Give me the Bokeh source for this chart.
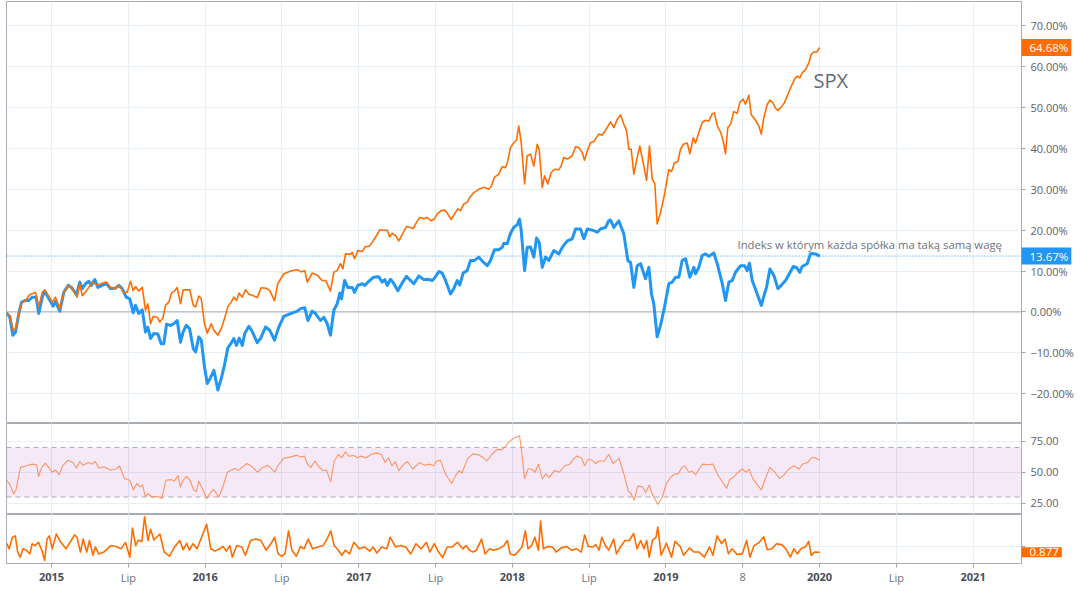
from bokeh.plotting import figure
from bokeh.models import Range1d, FixedTicker, Span, Label, BoxAnnotation, CustomJSTickFormatter
from bokeh.layouts import column
from bokeh.embed import file_html
from bokeh.resources import INLINE

# ---------------- data (decimal year, value) ----------------
equal_weight_pct = [
(2014.707,-0.2),(2014.729,-1.3),(2014.748,-5.7),(2014.766,-4.9),(2014.787,-0.4),(2014.805,2.4),(2014.831,2.8),(2014.852,2.8),(2014.874,3.6),(2014.900,3.6),
(2014.917,-0.4),(2014.940,3.6),(2014.956,5.1),(2014.983,3.2),(2015.011,1.4),(2015.026,2.6),(2015.054,0.2),(2015.080,4.8),(2015.109,6.5),(2015.130,6.0),
(2015.163,4.2),(2015.184,7.3),(2015.200,5.7),(2015.221,6.9),(2015.243,7.5),(2015.259,6.5),(2015.282,7.9),(2015.302,6.0),(2015.330,6.5),(2015.358,6.9),
(2015.384,5.7),(2015.417,5.8),(2015.438,6.5),(2015.460,5.7),(2015.486,3.6),(2015.510,3.2),(2015.532,-0.2),(2015.547,1.6),(2015.568,-0.4),(2015.591,0.5),
(2015.612,-4.9),(2015.627,-3.7),(2015.645,-6.5),(2015.666,-5.3),(2015.692,-5.4),(2015.714,-7.8),(2015.731,-7.8),(2015.749,-3.0),(2015.775,-3.3),(2015.796,-2.9),
(2015.818,-2.1),(2015.840,-7.4),(2015.857,-4.9),(2015.877,-3.3),(2015.899,-4.1),(2015.923,-9.0),(2015.938,-9.8),(2015.959,-6.1),(2015.975,-6.9),(2015.996,-13.5),
(2016.014,-17.5),(2016.035,-16.1),(2016.057,-14.3),(2016.083,-19.1),(2016.105,-16.3),(2016.126,-13.0),(2016.148,-8.8),(2016.170,-7.6),(2016.187,-6.5),(2016.204,-8.2),
(2016.222,-6.4),(2016.242,-8.2),(2016.258,-5.3),(2016.285,-3.5),(2016.307,-4.8),(2016.339,-7.5),(2016.361,-6.5),(2016.393,-3.7),(2016.421,-4.5),(2016.452,-6.9),
(2016.480,-3.7),(2016.512,-1.1),(2016.556,-0.4),(2016.600,0.2),(2016.621,0.8),(2016.649,1.0),(2016.669,-2.1),(2016.697,0.2),(2016.719,-0.4),(2016.751,-2.1),
(2016.773,-1.3),(2016.795,-2.9),(2016.816,-5.7),(2016.838,0.4),(2016.860,2.0),(2016.877,4.6),(2016.888,3.2),(2016.908,7.7),(2016.929,6.0),(2016.958,6.0),
(2016.973,4.8),(2016.994,6.5),(2017.023,6.9),(2017.040,6.5),(2017.066,7.5),(2017.098,8.5),(2017.131,8.6),(2017.153,7.3),(2017.170,7.9),(2017.186,6.5),
(2017.207,8.0),(2017.229,6.9),(2017.255,5.2),(2017.283,7.1),(2017.311,8.7),(2017.337,7.7),(2017.359,6.9),(2017.391,8.8),(2017.424,7.9),(2017.450,8.0),
(2017.479,7.7),(2017.494,8.3),(2017.522,9.9),(2017.544,9.5),(2017.565,7.7),(2017.598,4.4),(2017.619,5.7),(2017.641,7.7),(2017.658,6.6),(2017.680,9.5),
(2017.706,10.1),(2017.728,12.6),(2017.754,12.6),(2017.782,13.4),(2017.808,12.3),(2017.837,11.3),(2017.858,12.6),(2017.884,15.2),(2017.912,15.2),(2017.934,15.8),
(2017.945,16.8),(2017.967,16.7),(2017.988,19.2),(2018.010,20.7),(2018.032,21.3),(2018.047,22.7),(2018.058,19.9),(2018.080,10.1),(2018.097,15.8),(2018.119,15.9),
(2018.140,13.4),(2018.158,18.1),(2018.175,17.0),(2018.195,10.9),(2018.216,13.4),(2018.238,12.6),(2018.270,15.0),(2018.303,14.2),(2018.325,15.8),(2018.358,17.4),
(2018.390,17.9),(2018.412,20.3),(2018.444,20.3),(2018.466,17.9),(2018.488,20.3),(2018.531,19.9),(2018.553,19.5),(2018.574,20.3),(2018.607,20.7),(2018.628,22.3),
(2018.639,22.5),(2018.661,20.7),(2018.693,22.3),(2018.726,19.1),(2018.752,12.6),(2018.770,12.1),(2018.791,6.0),(2018.813,11.3),(2018.835,11.8),(2018.867,8.1),
(2018.889,10.9),(2018.906,4.4),(2018.921,2.0),(2018.943,-6.1),(2018.965,-3.3),(2018.991,1.2),(2019.019,6.9),(2019.041,7.3),(2019.063,8.5),(2019.084,8.5),
(2019.106,12.6),(2019.128,13.0),(2019.156,8.5),(2019.182,10.9),(2019.193,9.3),(2019.214,10.9),(2019.236,13.8),(2019.258,14.2),(2019.279,13.6),(2019.312,14.4),
(2019.334,11.8),(2019.367,6.9),(2019.388,2.8),(2019.410,7.3),(2019.432,7.7),(2019.453,9.7),(2019.486,11.3),(2019.512,11.3),(2019.529,10.1),(2019.544,11.9),
(2019.562,7.7),(2019.590,4.8),(2019.621,1.6),(2019.642,4.4),(2019.655,6.0),(2019.677,10.5),(2019.703,8.9),(2019.729,5.7),(2019.751,6.5),(2019.779,7.7),
(2019.800,9.1),(2019.829,11.1),(2019.850,10.9),(2019.872,9.7),(2019.887,11.1),(2019.920,11.8),(2019.941,14.2),(2019.953,14.3),(2019.974,14.2),(2020.002,13.67)]

spx_pct = [
(2014.707,-0.2),(2014.729,-0.9),(2014.751,-4.5),(2014.766,-4.1),(2014.787,-0.4),(2014.805,2.1),(2014.831,2.8),(2014.857,4.2),(2014.878,4.5),(2014.896,4.8),
(2014.917,1.2),(2014.940,4.8),(2014.956,5.4),(2014.983,3.8),(2015.005,2.4),(2015.026,3.6),(2015.054,0.8),(2015.080,4.8),(2015.109,6.5),(2015.130,6.0),
(2015.167,3.6),(2015.184,6.9),(2015.200,4.0),(2015.221,4.8),(2015.243,6.0),(2015.265,7.3),(2015.298,6.5),(2015.330,7.0),(2015.358,7.3),(2015.384,6.0),
(2015.417,5.8),(2015.438,6.5),(2015.471,4.8),(2015.493,4.8),(2015.514,7.5),(2015.532,5.2),(2015.547,6.2),(2015.568,5.1),(2015.591,6.0),(2015.612,0.4),
(2015.627,2.0),(2015.645,-2.9),(2015.662,-1.1),(2015.688,-1.3),(2015.705,-2.5),(2015.725,-1.5),(2015.742,1.6),(2015.764,2.4),(2015.781,4.6),(2015.803,5.2),
(2015.818,6.0),(2015.840,2.0),(2015.857,5.4),(2015.884,5.4),(2015.900,5.4),(2015.923,1.6),(2015.938,1.2),(2015.959,3.9),(2015.975,3.2),(2015.996,-2.9),
(2016.014,-5.2),(2016.040,-2.9),(2016.057,-4.5),(2016.083,-5.7),(2016.105,-4.1),(2016.126,-1.7),(2016.148,1.3),(2016.170,2.4),(2016.187,3.6),(2016.204,2.8),
(2016.222,4.6),(2016.242,3.6),(2016.263,5.4),(2016.285,4.3),(2016.311,4.0),(2016.339,3.5),(2016.365,5.9),(2016.398,5.8),(2016.421,5.2),(2016.452,2.7),
(2016.473,6.9),(2016.512,9.3),(2016.556,10.0),(2016.600,10.3),(2016.626,9.8),(2016.649,10.1),(2016.665,7.3),(2016.697,9.5),(2016.730,9.0),(2016.762,7.7),
(2016.784,7.7),(2016.795,6.9),(2016.816,5.1),(2016.838,9.7),(2016.860,10.1),(2016.882,11.8),(2016.897,10.5),(2016.914,14.2),(2016.947,14.1),(2016.958,14.6),
(2016.973,13.0),(2016.994,15.0),(2017.023,14.8),(2017.044,16.0),(2017.066,16.0),(2017.088,17.0),(2017.116,18.7),(2017.137,20.1),(2017.163,20.0),(2017.186,20.0),
(2017.201,18.4),(2017.218,19.2),(2017.240,18.7),(2017.261,17.4),(2017.283,18.9),(2017.311,20.9),(2017.333,20.7),(2017.355,20.4),(2017.376,21.9),(2017.398,23.1),
(2017.424,22.8),(2017.446,23.1),(2017.472,22.3),(2017.494,22.8),(2017.511,24.0),(2017.537,24.8),(2017.561,24.9),(2017.576,24.2),(2017.602,22.6),(2017.624,24.0),
(2017.645,25.2),(2017.663,24.8),(2017.684,26.4),(2017.706,26.8),(2017.723,28.0),(2017.749,29.2),(2017.782,30.0),(2017.815,30.5),(2017.847,30.0),(2017.865,30.9),
(2017.884,33.0),(2017.912,33.7),(2017.934,35.5),(2017.956,35.3),(2017.971,37.0),(2017.988,40.2),(2018.010,41.4),(2018.027,42.0),(2018.042,45.5),(2018.058,41.4),
(2018.080,31.3),(2018.097,38.2),(2018.119,38.6),(2018.140,35.7),(2018.162,41.0),(2018.175,39.8),(2018.195,30.4),(2018.210,33.3),(2018.231,31.3),(2018.253,34.1),
(2018.275,34.9),(2018.303,34.8),(2018.318,35.7),(2018.335,37.8),(2018.358,37.4),(2018.390,38.2),(2018.412,40.4),(2018.433,40.2),(2018.455,39.0),(2018.470,37.1),
(2018.488,39.4),(2018.509,41.4),(2018.531,41.7),(2018.563,43.5),(2018.585,43.3),(2018.607,44.4),(2018.639,46.5),(2018.661,45.1),(2018.683,47.1),(2018.705,48.2),
(2018.726,45.9),(2018.744,44.3),(2018.759,39.8),(2018.774,39.8),(2018.791,33.7),(2018.813,37.8),(2018.830,40.6),(2018.852,36.5),(2018.874,32.2),(2018.893,40.6),
(2018.911,32.5),(2018.928,31.3),(2018.943,21.5),(2018.965,24.3),(2018.991,28.8),(2019.019,34.8),(2019.037,34.4),(2019.056,36.5),(2019.078,36.8),(2019.095,39.8),
(2019.113,41.0),(2019.139,41.3),(2019.156,38.7),(2019.178,42.6),(2019.193,41.3),(2019.214,43.9),(2019.236,46.3),(2019.258,46.9),(2019.279,46.7),(2019.302,48.5),
(2019.316,48.7),(2019.334,45.5),(2019.356,44.0),(2019.373,41.8),(2019.388,38.7),(2019.403,45.1),(2019.421,45.9),(2019.442,49.0),(2019.464,48.6),(2019.481,51.2),
(2019.503,52.1),(2019.518,50.8),(2019.540,53.0),(2019.555,48.3),(2019.583,46.9),(2019.605,45.5),(2019.621,43.5),(2019.637,47.5),(2019.660,50.8),(2019.677,51.8),
(2019.696,51.2),(2019.714,49.8),(2019.729,49.3),(2019.751,50.1),(2019.772,51.2),(2019.794,53.2),(2019.816,55.2),(2019.837,56.9),(2019.855,57.7),(2019.872,57.3),
(2019.887,58.5),(2019.909,59.3),(2019.930,60.9),(2019.946,63.0),(2019.963,63.6),(2019.981,63.6),(2020.002,64.68)]

rsi_values = [
(2014.708,43.5),(2014.731,39.6),(2014.753,32.6),(2014.769,35.7),(2014.798,53.9),(2014.836,55.2),(2014.870,56.5),(2014.904,56.0),(2014.915,46.6),(2014.937,53.9),
(2014.960,57.3),(2015.005,50.0),(2015.027,51.8),(2015.050,47.9),(2015.072,55.2),(2015.106,59.6),(2015.139,57.8),(2015.162,53.4),(2015.184,58.6),(2015.206,55.7),
(2015.240,57.8),(2015.262,56.5),(2015.285,58.6),(2015.307,53.4),(2015.341,54.4),(2015.382,51.8),(2015.420,52.6),(2015.442,55.2),(2015.476,44.8),(2015.510,43.5),
(2015.532,35.7),(2015.555,40.9),(2015.577,38.3),(2015.592,39.6),(2015.611,30.5),(2015.628,32.6),(2015.656,30.0),(2015.689,30.5),(2015.718,28.7),(2015.745,43.5),
(2015.779,44.0),(2015.801,43.0),(2015.824,47.4),(2015.839,38.3),(2015.857,43.5),(2015.880,46.6),(2015.902,43.5),(2015.925,35.7),(2015.943,34.4),(2015.958,42.7),
(2015.981,37.0),(2016.010,28.7),(2016.033,33.1),(2016.055,36.2),(2016.089,30.0),(2016.116,38.3),(2016.145,50.0),(2016.172,51.8),(2016.195,53.1),(2016.217,51.3),
(2016.239,53.9),(2016.273,57.0),(2016.307,54.4),(2016.341,50.0),(2016.374,53.9),(2016.408,55.7),(2016.453,50.0),(2016.475,55.2),(2016.509,61.2),(2016.554,62.2),
(2016.598,63.8),(2016.621,62.2),(2016.648,63.0),(2016.665,56.5),(2016.688,53.9),(2016.715,59.1),(2016.744,53.9),(2016.767,51.3),(2016.789,51.8),(2016.818,42.2),
(2016.840,58.6),(2016.867,64.3),(2016.890,61.7),(2016.913,66.4),(2016.935,63.0),(2016.969,63.5),(2016.992,61.7),(2017.014,63.0),(2017.048,61.7),(2017.081,64.3),
(2017.115,65.6),(2017.149,64.3),(2017.171,57.8),(2017.194,61.7),(2017.216,55.2),(2017.239,58.6),(2017.261,51.3),(2017.295,56.5),(2017.318,58.6),(2017.351,52.6),
(2017.396,57.8),(2017.430,55.7),(2017.464,56.5),(2017.486,55.2),(2017.509,59.1),(2017.531,59.6),(2017.565,48.7),(2017.604,40.9),(2017.631,47.4),(2017.654,51.3),
(2017.671,49.2),(2017.710,61.2),(2017.744,64.8),(2017.777,64.3),(2017.811,61.7),(2017.833,59.1),(2017.867,64.3),(2017.900,68.2),(2017.934,68.2),(2017.957,70.8),
(2017.979,74.7),(2018.013,77.8),(2018.047,79.4),(2018.058,69.5),(2018.080,44.8),(2018.103,52.6),(2018.125,52.6),(2018.148,50.0),(2018.170,56.5),(2018.195,44.8),
(2018.218,48.7),(2018.240,45.6),(2018.274,51.3),(2018.307,50.0),(2018.341,55.2),(2018.374,56.5),(2018.397,60.4),(2018.419,63.0),(2018.449,61.7),(2018.471,55.2),
(2018.494,60.4),(2018.520,59.6),(2018.543,57.0),(2018.565,59.1),(2018.599,59.1),(2018.628,64.3),(2018.655,57.0),(2018.695,61.2),(2018.723,50.0),(2018.756,34.4),
(2018.772,33.1),(2018.794,27.4),(2018.816,38.8),(2018.846,38.3),(2018.869,33.6),(2018.891,39.6),(2018.913,31.8),(2018.947,24.0),(2018.974,29.2),(2019.003,40.9),
(2019.032,46.1),(2019.059,48.7),(2019.081,48.7),(2019.104,53.9),(2019.122,55.2),(2019.149,50.0),(2019.171,50.8),(2019.194,47.9),(2019.216,52.6),(2019.239,56.5),
(2019.272,56.0),(2019.306,56.5),(2019.340,47.4),(2019.396,37.0),(2019.414,44.0),(2019.441,46.1),(2019.463,49.2),(2019.497,52.6),(2019.524,50.0),(2019.542,52.6),
(2019.565,44.8),(2019.621,35.7),(2019.643,43.5),(2019.677,53.9),(2019.710,50.0),(2019.740,44.8),(2019.766,47.4),(2019.800,52.6),(2019.833,55.2),(2019.867,52.6),
(2019.889,56.5),(2019.923,57.8),(2019.946,61.7),(2019.968,61.7),(2020.002,59.9)]

osc_values = [
(2014.708,1.07),(2014.724,0.95),(2014.746,1.20),(2014.764,1.23),(2014.780,0.88),(2014.796,0.77),(2014.814,0.95),(2014.836,0.92),(2014.859,0.84),(2014.874,1.06),
(2014.892,1.02),(2014.915,1.09),(2014.937,0.92),(2014.955,0.70),(2014.971,1.16),(2014.986,1.23),(2015.005,0.95),(2015.031,1.27),(2015.061,1.09),(2015.094,0.95),
(2015.128,1.13),(2015.150,1.25),(2015.166,1.20),(2015.188,0.88),(2015.206,1.16),(2015.229,0.88),(2015.247,1.13),(2015.270,0.81),(2015.285,0.99),(2015.307,0.84),
(2015.341,0.88),(2015.386,1.02),(2015.420,1.00),(2015.453,0.95),(2015.481,1.09),(2015.510,0.77),(2015.527,1.40),(2015.548,1.02),(2015.566,1.14),(2015.588,1.11),
(2015.606,1.64),(2015.628,1.13),(2015.645,1.37),(2015.667,1.14),(2015.705,1.27),(2015.734,0.88),(2015.768,0.79),(2015.801,0.99),(2015.835,1.13),(2015.857,0.93),
(2015.880,1.07),(2015.898,0.92),(2015.921,1.06),(2015.947,0.95),(2015.981,1.23),(2016.010,1.48),(2016.037,0.95),(2016.064,0.90),(2016.093,0.95),(2016.116,1.00),
(2016.138,0.90),(2016.161,1.02),(2016.177,0.77),(2016.206,1.02),(2016.239,0.99),(2016.262,0.81),(2016.296,1.13),(2016.330,1.16),(2016.363,1.13),(2016.397,0.92),
(2016.430,1.07),(2016.453,1.20),(2016.475,0.84),(2016.498,0.79),(2016.520,0.84),(2016.543,1.34),(2016.565,0.92),(2016.594,0.79),(2016.621,1.00),(2016.644,0.95),
(2016.671,1.16),(2016.700,0.95),(2016.734,0.99),(2016.767,1.02),(2016.789,1.13),(2016.818,1.34),(2016.840,1.02),(2016.867,0.92),(2016.890,0.81),(2016.913,0.92),
(2016.940,0.84),(2016.969,1.09),(2017.003,0.95),(2017.036,0.99),(2017.071,0.90),(2017.093,0.99),(2017.119,0.86),(2017.149,0.99),(2017.183,0.95),(2017.205,1.20),
(2017.239,0.99),(2017.272,1.02),(2017.306,0.99),(2017.339,0.84),(2017.373,1.06),(2017.407,0.95),(2017.441,1.09),(2017.463,0.88),(2017.492,1.06),(2017.520,0.88),
(2017.546,0.76),(2017.576,0.99),(2017.609,0.99),(2017.643,1.09),(2017.677,0.95),(2017.699,1.02),(2017.721,0.92),(2017.744,0.88),(2017.766,0.92),(2017.800,1.16),
(2017.822,0.84),(2017.852,0.95),(2017.878,0.92),(2017.912,0.95),(2017.945,1.02),(2017.968,1.13),(2017.986,0.84),(2018.013,0.81),(2018.035,0.88),(2018.063,0.99),
(2018.085,1.34),(2018.102,0.95),(2018.125,1.02),(2018.147,1.20),(2018.170,0.92),(2018.184,1.55),(2018.202,0.95),(2018.229,1.00),(2018.262,0.99),(2018.285,0.88),
(2018.318,0.97),(2018.352,1.00),(2018.385,0.92),(2018.419,0.95),(2018.449,0.88),(2018.471,1.25),(2018.494,1.00),(2018.525,0.99),(2018.543,1.04),(2018.565,0.92),
(2018.583,1.20),(2018.606,1.02),(2018.628,0.92),(2018.660,1.16),(2018.678,0.84),(2018.705,1.00),(2018.734,1.13),(2018.762,1.13),(2018.790,1.28),(2018.812,0.95),
(2018.835,1.13),(2018.857,0.95),(2018.875,1.13),(2018.891,0.77),(2018.913,1.14),(2018.936,1.20),(2018.947,1.42),(2018.969,0.81),(2019.003,1.07),(2019.037,0.77),
(2019.059,1.11),(2019.093,1.00),(2019.115,0.81),(2019.154,0.97),(2019.182,0.88),(2019.216,0.88),(2019.250,0.77),(2019.284,0.99),(2019.306,0.81),(2019.333,1.23),
(2019.362,1.06),(2019.385,1.16),(2019.407,0.84),(2019.430,0.95),(2019.463,0.83),(2019.497,0.84),(2019.525,1.13),(2019.547,0.77),(2019.574,1.02),(2019.608,1.09),
(2019.637,1.21),(2019.660,0.93),(2019.691,0.95),(2019.720,1.06),(2019.754,1.04),(2019.781,0.95),(2019.810,0.77),(2019.833,0.95),(2019.856,0.84),(2019.878,0.95),
(2019.908,0.99),(2019.930,1.11),(2019.946,0.81),(2019.968,0.88),(2020.002,0.877)]

time_ticks = [2015.0, 2015.5, 2016.0, 2016.5, 2017.0, 2017.5, 2018.0, 2018.5, 2019.0, 2019.5, 2020.0, 2020.5, 2021.0]
time_labels = ["2015", "Lip", "2016", "Lip", "2017", "Lip", "2018", "Lip", "2019", "8", "2020", "Lip", "2021"]
pct_ticks = [-20, -10, 0, 10, 20, 30, 40, 50, 60, 70]
rsi_ticks = [25, 50, 75]
rsi_band = (30, 70)

# ---------------- style ----------------
ORANGE = "#FF6D00"
BLUE = "#2196F3"
FRAME = "#A9ACB4"
GRID = "#E8EEF5"
TXT = "#5D606B"
FONT = "Open Sans"

def unzip(pairs):
    return [a for a, _ in pairs], [b for _, b in pairs]

eq_t, eq_v = unzip(equal_weight_pct)
spx_t, spx_v = unzip(spx_pct)
rsi_t, rsi_v = unzip(rsi_values)
osc_t, osc_v = unzip(osc_values)

x_range = Range1d(2014.707, 2021.315)
X_END = 2021.315


def make_fig(frame_h, y_rng, top=0, bottom=0, xaxis=False):
    p = figure(frame_width=1015, frame_height=frame_h, x_range=x_range, y_range=y_rng,
               output_backend="svg", toolbar_location=None,
               x_axis_location="below" if xaxis else None, y_axis_location="right",
               min_border_left=6, min_border_right=59, min_border_top=top, min_border_bottom=bottom)
    p.outline_line_color = FRAME
    p.outline_line_width = 1
    p.background_fill_color = "white"
    p.border_fill_color = "white"
    p.xgrid.ticker = FixedTicker(ticks=time_ticks)
    p.xgrid.grid_line_color = GRID
    p.ygrid.grid_line_color = GRID
    ax = p.yaxis[0]
    ax.axis_line_color = FRAME
    ax.major_tick_line_color = "#A0A3AB"
    ax.major_tick_out = 4
    ax.major_tick_in = 0
    ax.minor_tick_line_color = None
    ax.major_label_text_font = FONT
    ax.major_label_text_font_size = "11px"
    ax.major_label_text_color = TXT
    ax.major_label_standoff = 5
    return p


def value_box(p, y, text, color):
    p.add_layout(Label(x=X_END, y=y, text=text, text_color="white",
                       text_font=FONT, text_font_size="11.5px",
                       text_align="left", text_baseline="middle",
                       background_fill_color=color,
                       padding=dict(left=8, right=3, top=1, bottom=1)), "right")

# ---------------- main panel ----------------
p1 = make_fig(422, Range1d(-27.3, 75.95), top=1)
p1.yaxis[0].ticker = FixedTicker(ticks=pct_ticks)
p1.ygrid.ticker = FixedTicker(ticks=pct_ticks)
p1.yaxis[0].formatter = CustomJSTickFormatter(
    code="const s = Math.abs(tick).toFixed(2) + '%'; return tick < 0 ? '\u2212' + s : s;")
p1.add_layout(Span(location=0, dimension="width", line_color="#A7AAB2", line_width=1, level="underlay"))
p1.add_layout(Span(location=eq_v[-1], dimension="width", line_color=BLUE, line_width=1,
                   line_dash="1 2", level="underlay"))
p1.line(eq_t, eq_v, line_color=BLUE, line_width=3, line_join="round")
p1.line(spx_t, spx_v, line_color=ORANGE, line_width=1.6, line_join="round")
p1.add_layout(Label(x=2019.961, y=56.6, text="SPX", text_font=FONT, text_font_size="20px",
                    text_color="#5E6B78", text_baseline="middle", text_align="left"))
p1.add_layout(Label(x=2019.466, y=16.5, text="Indeks w którym każda spółka ma taką samą wagę",
                    text_font=FONT, text_font_size="11.3px", text_color="#6F727C",
                    text_baseline="middle", text_align="left"))
value_box(p1, spx_v[-1], f"{spx_v[-1]:.2f}%", ORANGE)
value_box(p1, eq_v[-1], f"{eq_v[-1]:.2f}%", BLUE)

# ---------------- RSI panel ----------------
p2 = make_fig(91, Range1d(15.9, 89.3))
p2.yaxis[0].ticker = FixedTicker(ticks=rsi_ticks)
p2.ygrid.ticker = FixedTicker(ticks=rsi_ticks)
p2.yaxis[0].formatter = CustomJSTickFormatter(code="return tick.toFixed(2);")
p2.add_layout(BoxAnnotation(bottom=rsi_band[0], top=rsi_band[1], fill_color="#9C27B0",
                            fill_alpha=0.1, line_color=None, level="underlay"))
for lvl in rsi_band:
    p2.add_layout(Span(location=lvl, dimension="width", line_color="#A9ACB4", line_width=1,
                       line_dash="5 4", level="underlay"))
p2.line(rsi_t, rsi_v, line_color="#FF7A33", line_alpha=0.75, line_width=1.1, line_join="round")

# ---------------- bottom panel ----------------
p3 = make_fig(49, Range1d(0.633, 1.691), bottom=28, xaxis=True)
p3.yaxis[0].ticker = FixedTicker(ticks=[1.0])
p3.ygrid.ticker = FixedTicker(ticks=[1.0])
p3.yaxis[0].formatter = CustomJSTickFormatter(code="return '';")
p3.line(osc_t, osc_v, line_color=ORANGE, line_width=1.6, line_join="round")
value_box(p3, osc_v[-1], f"{osc_v[-1]:.3f}", ORANGE)

xa = p3.xaxis[0]
xa.ticker = FixedTicker(ticks=time_ticks)
xa.formatter = CustomJSTickFormatter(code="return '';")
xa.axis_line_color = FRAME
xa.major_tick_line_color = "#A0A3AB"
xa.major_tick_out = 4
xa.major_tick_in = 0
xa.minor_tick_line_color = None
for t, lab in zip(time_ticks, time_labels):
    is_year = lab.isdigit() and len(lab) == 4
    p3.add_layout(Label(x=t, y=0.331, text=lab, text_font=FONT, text_font_size="11px",
                        text_font_style="bold" if is_year else "normal",
                        text_color="#4A4D57" if is_year else "#6F727C",
                        text_align="center", text_baseline="middle"), "below")

layout = column(p1, p2, p3, spacing=0)
open("out.html", "w", encoding="utf-8").write(file_html(layout, INLINE))
